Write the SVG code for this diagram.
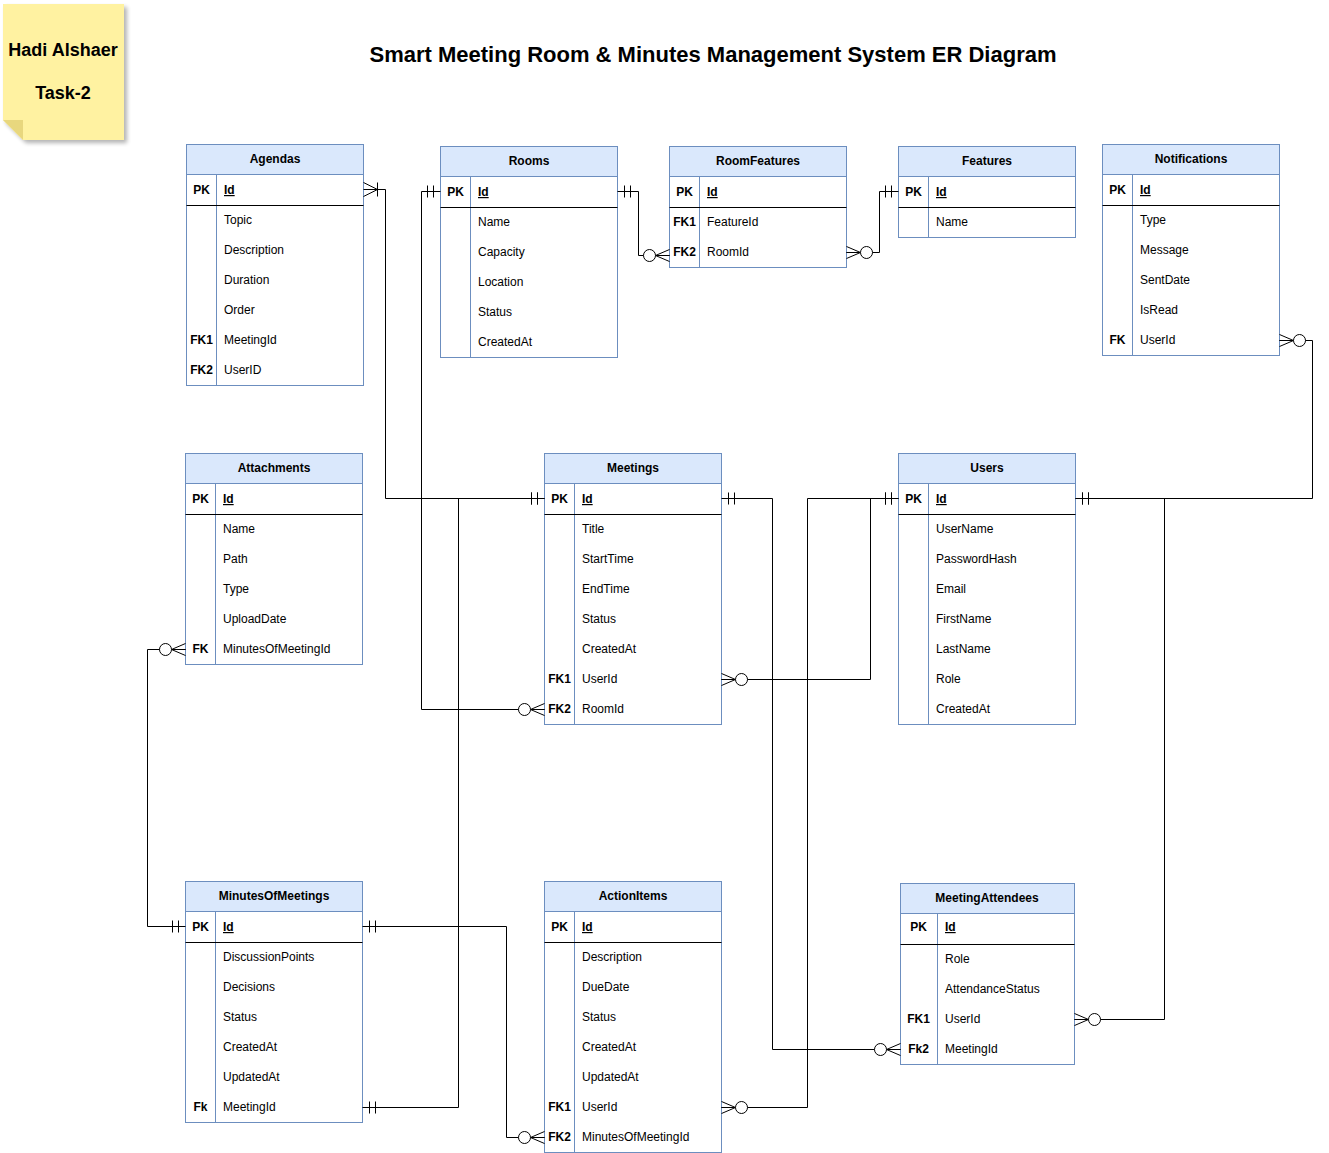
<svg xmlns="http://www.w3.org/2000/svg" width="1329" height="1153" viewBox="0 0 1329 1153">
<defs>
<style>
text{font-family:"Liberation Sans",Arial,sans-serif;fill:#000}
.title{font-size:22px;font-weight:bold}
.note{font-size:18px;font-weight:bold}
.hdr{font-size:12px;font-weight:bold}
.key{font-size:12px;font-weight:bold}
.fld{font-size:12px}
.pk{text-decoration:underline;font-weight:bold}
.box{fill:#ffffff;stroke:#6c8ebf;stroke-width:1}
.head{fill:#dae8fc;stroke:#6c8ebf;stroke-width:1}
.div{stroke:#6c8ebf;stroke-width:1}
.sep{stroke:#000;stroke-width:1}
.conn path{fill:none;stroke:#000;stroke-width:1}
</style>
<marker id="one" markerUnits="userSpaceOnUse" orient="auto-start-reverse" refX="0" refY="0" markerWidth="1" markerHeight="1" overflow="visible">
<path d="M-7,-6V6M-13,-6V6" fill="none" stroke="#000" stroke-width="1"/>
</marker>
<marker id="zmany" markerUnits="userSpaceOnUse" orient="auto-start-reverse" refX="0" refY="0" markerWidth="1" markerHeight="1" overflow="visible">
<path d="M0,-6L-14,0L0,6M0,0H-14" fill="none" stroke="#000" stroke-width="1"/>
<circle cx="-20" cy="0" r="6" fill="#fff" stroke="#000" stroke-width="1"/>
</marker>
<marker id="omany" markerUnits="userSpaceOnUse" orient="auto-start-reverse" refX="0" refY="0" markerWidth="1" markerHeight="1" overflow="visible">
<path d="M0,-7L-14,0L0,7M-14,-7V7" fill="none" stroke="#000" stroke-width="1"/>
</marker>
<filter id="sh" x="-10%" y="-10%" width="130%" height="130%">
<feGaussianBlur in="SourceAlpha" stdDeviation="2"/>
<feOffset dx="3" dy="3"/>
<feComponentTransfer><feFuncA type="linear" slope="0.3"/></feComponentTransfer>
<feMerge><feMergeNode/><feMergeNode in="SourceGraphic"/></feMerge>
</filter>
</defs>
<rect width="1329" height="1153" fill="#ffffff"/>

<g id="note">
<path d="M3,4H124V140H23L3,120Z" fill="#fff2a1" stroke="none" filter="url(#sh)"/>
<path d="M3,120H23V140Z" fill="#e8d77e"/>
<text class="note" x="63" y="56" text-anchor="middle">Hadi Alshaer</text>
<text class="note" x="63" y="99" text-anchor="middle">Task-2</text>
</g>

<text id="title" class="title" x="713" y="62" text-anchor="middle">Smart Meeting Room &amp; Minutes Management System ER Diagram</text>

<g id="Agendas">
<rect class="box" x="186.5" y="144.5" width="177" height="241"/>
<rect class="head" x="186.5" y="144.5" width="177" height="30"/>
<line class="div" x1="216.5" y1="174.5" x2="216.5" y2="385.5"/>
<line class="sep" x1="186.5" y1="205.5" x2="363.5" y2="205.5"/>
<text class="hdr" x="275" y="163" text-anchor="middle">Agendas</text>
<text class="key" x="201.5" y="194" text-anchor="middle">PK</text><text class="fld pk" x="224" y="194">Id</text>
<text class="fld" x="224" y="224">Topic</text>
<text class="fld" x="224" y="254">Description</text>
<text class="fld" x="224" y="284">Duration</text>
<text class="fld" x="224" y="314">Order</text>
<text class="key" x="201.5" y="344" text-anchor="middle">FK1</text><text class="fld" x="224" y="344">MeetingId</text>
<text class="key" x="201.5" y="374" text-anchor="middle">FK2</text><text class="fld" x="224" y="374">UserID</text>
</g>

<g id="Rooms">
<rect class="box" x="440.5" y="146.5" width="177" height="211"/>
<rect class="head" x="440.5" y="146.5" width="177" height="30"/>
<line class="div" x1="470.5" y1="176.5" x2="470.5" y2="357.5"/>
<line class="sep" x1="440.5" y1="207.5" x2="617.5" y2="207.5"/>
<text class="hdr" x="529" y="165" text-anchor="middle">Rooms</text>
<text class="key" x="455.5" y="196" text-anchor="middle">PK</text><text class="fld pk" x="478" y="196">Id</text>
<text class="fld" x="478" y="226">Name</text>
<text class="fld" x="478" y="256">Capacity</text>
<text class="fld" x="478" y="286">Location</text>
<text class="fld" x="478" y="316">Status</text>
<text class="fld" x="478" y="346">CreatedAt</text>
</g>

<g id="RoomFeatures">
<rect class="box" x="669.5" y="146.5" width="177" height="121"/>
<rect class="head" x="669.5" y="146.5" width="177" height="30"/>
<line class="div" x1="699.5" y1="176.5" x2="699.5" y2="267.5"/>
<line class="sep" x1="669.5" y1="207.5" x2="846.5" y2="207.5"/>
<text class="hdr" x="758" y="165" text-anchor="middle">RoomFeatures</text>
<text class="key" x="684.5" y="196" text-anchor="middle">PK</text><text class="fld pk" x="707" y="196">Id</text>
<text class="key" x="684.5" y="226" text-anchor="middle">FK1</text><text class="fld" x="707" y="226">FeatureId</text>
<text class="key" x="684.5" y="256" text-anchor="middle">FK2</text><text class="fld" x="707" y="256">RoomId</text>
</g>

<g id="Features">
<rect class="box" x="898.5" y="146.5" width="177" height="91"/>
<rect class="head" x="898.5" y="146.5" width="177" height="30"/>
<line class="div" x1="928.5" y1="176.5" x2="928.5" y2="237.5"/>
<line class="sep" x1="898.5" y1="207.5" x2="1075.5" y2="207.5"/>
<text class="hdr" x="987" y="165" text-anchor="middle">Features</text>
<text class="key" x="913.5" y="196" text-anchor="middle">PK</text><text class="fld pk" x="936" y="196">Id</text>
<text class="fld" x="936" y="226">Name</text>
</g>

<g id="Notifications">
<rect class="box" x="1102.5" y="144.5" width="177" height="211"/>
<rect class="head" x="1102.5" y="144.5" width="177" height="30"/>
<line class="div" x1="1132.5" y1="174.5" x2="1132.5" y2="355.5"/>
<line class="sep" x1="1102.5" y1="205.5" x2="1279.5" y2="205.5"/>
<text class="hdr" x="1191" y="163" text-anchor="middle">Notifications</text>
<text class="key" x="1117.5" y="194" text-anchor="middle">PK</text><text class="fld pk" x="1140" y="194">Id</text>
<text class="fld" x="1140" y="224">Type</text>
<text class="fld" x="1140" y="254">Message</text>
<text class="fld" x="1140" y="284">SentDate</text>
<text class="fld" x="1140" y="314">IsRead</text>
<text class="key" x="1117.5" y="344" text-anchor="middle">FK</text><text class="fld" x="1140" y="344">UserId</text>
</g>

<g id="Attachments">
<rect class="box" x="185.5" y="453.5" width="177" height="211"/>
<rect class="head" x="185.5" y="453.5" width="177" height="30"/>
<line class="div" x1="215.5" y1="483.5" x2="215.5" y2="664.5"/>
<line class="sep" x1="185.5" y1="514.5" x2="362.5" y2="514.5"/>
<text class="hdr" x="274" y="472" text-anchor="middle">Attachments</text>
<text class="key" x="200.5" y="503" text-anchor="middle">PK</text><text class="fld pk" x="223" y="503">Id</text>
<text class="fld" x="223" y="533">Name</text>
<text class="fld" x="223" y="563">Path</text>
<text class="fld" x="223" y="593">Type</text>
<text class="fld" x="223" y="623">UploadDate</text>
<text class="key" x="200.5" y="653" text-anchor="middle">FK</text><text class="fld" x="223" y="653">MinutesOfMeetingId</text>
</g>

<g id="Meetings">
<rect class="box" x="544.5" y="453.5" width="177" height="271"/>
<rect class="head" x="544.5" y="453.5" width="177" height="30"/>
<line class="div" x1="574.5" y1="483.5" x2="574.5" y2="724.5"/>
<line class="sep" x1="544.5" y1="514.5" x2="721.5" y2="514.5"/>
<text class="hdr" x="633" y="472" text-anchor="middle">Meetings</text>
<text class="key" x="559.5" y="503" text-anchor="middle">PK</text><text class="fld pk" x="582" y="503">Id</text>
<text class="fld" x="582" y="533">Title</text>
<text class="fld" x="582" y="563">StartTime</text>
<text class="fld" x="582" y="593">EndTime</text>
<text class="fld" x="582" y="623">Status</text>
<text class="fld" x="582" y="653">CreatedAt</text>
<text class="key" x="559.5" y="683" text-anchor="middle">FK1</text><text class="fld" x="582" y="683">UserId</text>
<text class="key" x="559.5" y="713" text-anchor="middle">FK2</text><text class="fld" x="582" y="713">RoomId</text>
</g>

<g id="Users">
<rect class="box" x="898.5" y="453.5" width="177" height="271"/>
<rect class="head" x="898.5" y="453.5" width="177" height="30"/>
<line class="div" x1="928.5" y1="483.5" x2="928.5" y2="724.5"/>
<line class="sep" x1="898.5" y1="514.5" x2="1075.5" y2="514.5"/>
<text class="hdr" x="987" y="472" text-anchor="middle">Users</text>
<text class="key" x="913.5" y="503" text-anchor="middle">PK</text><text class="fld pk" x="936" y="503">Id</text>
<text class="fld" x="936" y="563" dy="-30">UserName</text>
<text class="fld" x="936" y="563">PasswordHash</text>
<text class="fld" x="936" y="593">Email</text>
<text class="fld" x="936" y="623">FirstName</text>
<text class="fld" x="936" y="653">LastName</text>
<text class="fld" x="936" y="683">Role</text>
<text class="fld" x="936" y="713">CreatedAt</text>
</g>

<g id="MinutesOfMeetings">
<rect class="box" x="185.5" y="881.5" width="177" height="241"/>
<rect class="head" x="185.5" y="881.5" width="177" height="30"/>
<line class="div" x1="215.5" y1="911.5" x2="215.5" y2="1122.5"/>
<line class="sep" x1="185.5" y1="942.5" x2="362.5" y2="942.5"/>
<text class="hdr" x="274" y="900" text-anchor="middle">MinutesOfMeetings</text>
<text class="key" x="200.5" y="931" text-anchor="middle">PK</text><text class="fld pk" x="223" y="931">Id</text>
<text class="fld" x="223" y="961">DiscussionPoints</text>
<text class="fld" x="223" y="991">Decisions</text>
<text class="fld" x="223" y="1021">Status</text>
<text class="fld" x="223" y="1051">CreatedAt</text>
<text class="fld" x="223" y="1081">UpdatedAt</text>
<text class="key" x="200.5" y="1111" text-anchor="middle">Fk</text><text class="fld" x="223" y="1111">MeetingId</text>
</g>

<g id="ActionItems">
<rect class="box" x="544.5" y="881.5" width="177" height="271"/>
<rect class="head" x="544.5" y="881.5" width="177" height="30"/>
<line class="div" x1="574.5" y1="911.5" x2="574.5" y2="1152.5"/>
<line class="sep" x1="544.5" y1="942.5" x2="721.5" y2="942.5"/>
<text class="hdr" x="633" y="900" text-anchor="middle">ActionItems</text>
<text class="key" x="559.5" y="931" text-anchor="middle">PK</text><text class="fld pk" x="582" y="931">Id</text>
<text class="fld" x="582" y="961">Description</text>
<text class="fld" x="582" y="991">DueDate</text>
<text class="fld" x="582" y="1021">Status</text>
<text class="fld" x="582" y="1051">CreatedAt</text>
<text class="fld" x="582" y="1081">UpdatedAt</text>
<text class="key" x="559.5" y="1111" text-anchor="middle">FK1</text><text class="fld" x="582" y="1111">UserId</text>
<text class="key" x="559.5" y="1141" text-anchor="middle">FK2</text><text class="fld" x="582" y="1141">MinutesOfMeetingId</text>
</g>

<g id="MeetingAttendees">
<rect class="box" x="900.5" y="883.5" width="174" height="181"/>
<rect class="head" x="900.5" y="883.5" width="174" height="30"/>
<line class="div" x1="937.5" y1="913.5" x2="937.5" y2="1064.5"/>
<line class="sep" x1="900.5" y1="944.5" x2="1074.5" y2="944.5"/>
<text class="hdr" x="987" y="902" text-anchor="middle">MeetingAttendees</text>
<text class="key" x="918.5" y="931" text-anchor="middle">PK</text><text class="fld pk" x="945" y="931">Id</text>
<text class="fld" x="945" y="963">Role</text>
<text class="fld" x="945" y="993">AttendanceStatus</text>
<text class="key" x="918.5" y="1023" text-anchor="middle">FK1</text><text class="fld" x="945" y="1023">UserId</text>
<text class="key" x="918.5" y="1053" text-anchor="middle">Fk2</text><text class="fld" x="945" y="1053">MeetingId</text>
</g>

<g id="connectors" class="conn">
<path d="M363.5,189.5H385.5V498.5H544.5" marker-start="url(#omany)" marker-end="url(#one)"/>
<path d="M440.5,191.5H421.5V709.5H544.5" marker-start="url(#one)" marker-end="url(#zmany)"/>
<path d="M617.5,191.5H638.5V255.5H669.5" marker-start="url(#one)" marker-end="url(#zmany)"/>
<path d="M898.5,191.5H879.5V252.5H846.5" marker-start="url(#one)" marker-end="url(#zmany)"/>
<path d="M1279.5,340.5H1312.5V498.5H1075.5" marker-start="url(#zmany)" marker-end="url(#one)"/>
<path d="M1075.5,498.5H1164.5V1019.5H1074.5" marker-start="url(#one)" marker-end="url(#zmany)"/>
<path d="M898.5,498.5H870.5V679.5H721.5" marker-start="url(#one)" marker-end="url(#zmany)"/>
<path d="M898.5,498.5H807.5V1107.5H721.5" marker-start="url(#one)" marker-end="url(#zmany)"/>
<path d="M721.5,498.5H772.5V1049.5H900.5" marker-start="url(#one)" marker-end="url(#zmany)"/>
<path d="M544.5,498.5H458.5V1107.5H362.5" marker-start="url(#one)" marker-end="url(#one)"/>
<path d="M185.5,926.5H147.5V649.5H185.5" marker-start="url(#one)" marker-end="url(#zmany)"/>
<path d="M362.5,926.5H506.5V1137.5H544.5" marker-start="url(#one)" marker-end="url(#zmany)"/>
</g>
</svg>
